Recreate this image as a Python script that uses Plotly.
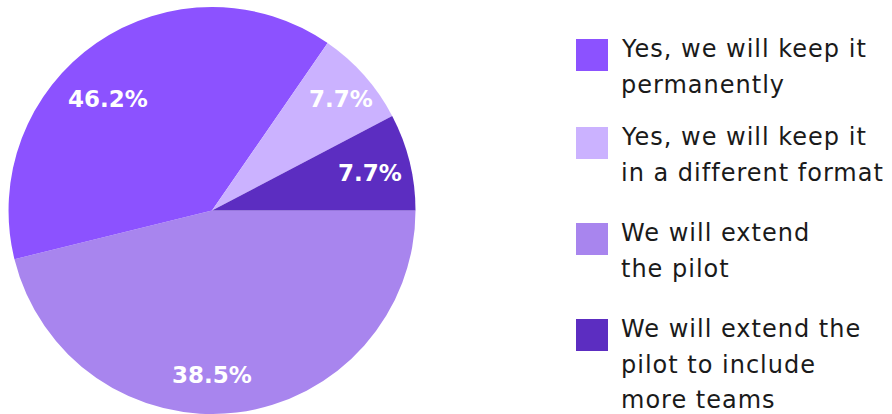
import math
import plotly.graph_objects as go

# Data
categories = [
    "Yes, we will keep it permanently",
    "Yes, we will keep it in a different format",
    "We will extend the pilot",
    "We will extend the pilot to include more teams",
]
legend_lines = [
    ["Yes, we will keep it", "permanently"],
    ["Yes, we will keep it", "in a different format"],
    ["We will extend", "the pilot"],
    ["We will extend the", "pilot to include", "more teams"],
]
# slice sizes as drawn in the reference
slice_values = [5, 1, 6, 1]
# percentage labels as printed in the reference
label_pct = [46.2, 7.7, 38.5, 7.7]
colors = ["#8C52FF", "#CBB2FF", "#A885EE", "#5C2DC1"]

# Drawing order (clockwise from 3 o'clock)
draw_order = [2, 0, 1, 3]

# Label placement style (radius fraction, angle nudge in degrees) per category
label_rfrac = [0.75, 0.84, 0.81, 0.80]
label_nudge = [8.5, -0.6, -6.9, -0.6]

W, H = 892, 414
dom_x = [0.009, 0.4664]
dom_y = [0.0, 0.983]

fig = go.Figure()
fig.add_trace(go.Pie(
    labels=[categories[i] for i in draw_order],
    values=[slice_values[i] for i in draw_order],
    marker=dict(colors=[colors[i] for i in draw_order], line=dict(width=0)),
    sort=False,
    direction="clockwise",
    rotation=90,
    textinfo="none",
    domain=dict(x=dom_x, y=dom_y),
    showlegend=False,
    hoverinfo="label",
))

# Percentage labels, placed from data-derived angles
cx = (dom_x[0] + dom_x[1]) / 2 * W
cy_up = (dom_y[0] + dom_y[1]) / 2 * H  # from bottom
R = min((dom_x[1] - dom_x[0]) * W, (dom_y[1] - dom_y[0]) * H) / 2
total = sum(slice_values)
ang = 360.0
for i in draw_order:
    span = slice_values[i] / total * 360
    mid = ang - span / 2 + label_nudge[i]
    ang -= span
    r = label_rfrac[i] * R
    px = cx + r * math.cos(math.radians(mid))
    py = cy_up + r * math.sin(math.radians(mid))
    fig.add_annotation(xref="paper", yref="paper", x=px / W, y=py / H,
                       xanchor="center", yanchor="middle", showarrow=False,
                       text=f"{label_pct[i]:.1f}%",
                       font=dict(family="DejaVu Sans", size=23, color="white", weight="bold"))

# Manual legend
sq = 32
tops = [39, 127, 223, 319]
line_gap = 35.5
for i, lines in enumerate(legend_lines):
    y0 = tops[i]
    fig.add_shape(type="rect", xref="paper", yref="paper",
                  x0=576 / W, x1=(576 + sq) / W,
                  y0=1 - (y0 + sq) / H, y1=1 - y0 / H,
                  fillcolor=colors[i], line=dict(width=0))
    for k, line in enumerate(lines):
        yc = y0 + 10 + k * line_gap
        fig.add_annotation(xref="paper", yref="paper", x=619 / W, y=1 - yc / H,
                           xanchor="left", yanchor="middle", align="left",
                           text=f'<span style="letter-spacing:1px">{line}</span>',
                           showarrow=False,
                           font=dict(family="DejaVu Sans", size=24, color="#1a1a1a"))

fig.update_layout(
    width=W, height=H,
    margin=dict(l=0, r=0, t=0, b=0),
    paper_bgcolor="white",
    plot_bgcolor="white",
)
fig.write_html("out.html")
